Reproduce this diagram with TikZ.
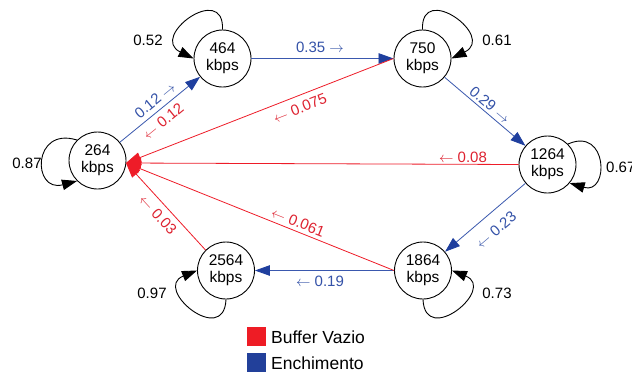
\documentclass[tikz,border=0pt]{standalone}
\usepackage{fontspec}
\setmainfont{Liberation Sans}
\usetikzlibrary{arrows.meta}
\definecolor{chainblue}{HTML}{3A58AE}
\definecolor{tipblue}{HTML}{1F3F9E}
\definecolor{chainred}{HTML}{EE1C28}
\definecolor{labred}{HTML}{DE2230}
\definecolor{labblue}{HTML}{3452A8}
\definecolor{keyred}{HTML}{EE1C25}
\definecolor{keyblue}{HTML}{22409A}
\newcommand{\fwd}{$\rightarrow$}
\newcommand{\bwd}{$\leftarrow$}
\begin{document}
\begin{tikzpicture}[x=1pt,y=-1pt,
  ratenode/.style={circle,draw=black,line width=0.9pt,minimum size=57pt,inner sep=0pt,
    align=center,font=\fontsize{15.5}{16.7}\selectfont},
  blueedge/.style={draw=chainblue,line width=0.8pt,-{Triangle[length=15pt,width=10.5pt,fill=tipblue,color=tipblue]}},
  rededge/.style={draw=chainred,line width=0.8pt,-{Triangle[length=15pt,width=10.5pt,fill=chainred,color=chainred]}},
  loopedge/.style={draw=black,line width=0.9pt,-{Triangle[length=15pt,width=10.5pt]}},
  problab/.style={font=\fontsize{15}{16}\selectfont,inner sep=0pt},
  redlab/.style={problab,text=labred},
  bluelab/.style={problab,text=labblue},
  keytext/.style={font=\fontsize{17.5}{19}\selectfont,anchor=west,inner sep=0pt}]
\useasboundingbox (0,0) rectangle (632,376);
\fill[white] (0,0) rectangle (632,376);

% bit-rate states
\node[ratenode] (n264)  at (97.5,160.5) {264\\kbps};
\node[ratenode] (n464)  at (222.5,58.5) {464\\kbps};
\node[ratenode] (n750)  at (422.5,58.5) {750\\kbps};
\node[ratenode] (n1264) at (547.5,164.5) {1264\\kbps};
\node[ratenode] (n1864) at (423,270.5) {1864\\kbps};
\node[ratenode] (n2564) at (226,270.5) {2564\\kbps};
\coordinate (rin) at (126,163);

% filling transitions (step up / step down along the chain)
\draw[blueedge] (n264) -- (n464);
\draw[blueedge] (n464) -- (n750);
\draw[blueedge] (n750) -- (n1264);
\draw[blueedge] (n1264) -- (n1864);
\draw[blueedge] (n1864.west) -- (n2564);

% empty-buffer transitions back to the lowest rate
\draw[rededge] (n750.west) -- (rin);
\draw[rededge] (n1264.west) -- (rin);
\draw[rededge] (n1864.west) -- (rin);
\draw[rededge] (n2564.135) -- (rin);

% self loops
\draw[loopedge] (n264.135) .. controls +(-45,-14) and +(-45,12) .. (n264.225);
\draw[loopedge] (n464.north) .. controls +(2,-48) and +(-45,-22) .. (n464.west);
\draw[loopedge] (n750.north) .. controls +(-2,-48) and +(45,-22) .. (n750.east);
\draw[loopedge] (n1264.45) .. controls +(40,-18) and +(40,12) .. (n1264.-40);
\draw[loopedge] (n1864.south) .. controls +(2,48) and +(45,18) .. (n1864.east);
\draw[loopedge] (n2564.south) .. controls +(-2,48) and +(-45,18) .. (n2564.west);

% self-loop probabilities
\node[problab] (p264)  at (27,163) {0.87};
\node[problab] (p464)  at (148,40) {0.52};
\node[problab] (p750)  at (497,40) {0.61};
\node[problab,anchor=west] (p1264) at (606,167) {0.67};
\node[problab] (p1864) at (497,293) {0.73};
\node[problab] (p2564) at (152,293) {0.97};

% transition probabilities
\node[bluelab,rotate=39.2] (q1) at (155,100) {0.12 \fwd};
\node[redlab,rotate=39.2] (q2) at (163,121) {\bwd\ 0.12};
\node[bluelab] (q3) at (320,47) {0.35 \fwd};
\node[redlab,rotate=21.3] (q4) at (300,108) {\bwd\ 0.075};
\node[bluelab,rotate=-40.2] (q5) at (490,105) {0.29 \fwd};
\node[redlab] (q6) at (463,157) {\bwd\ 0.08};
\node[bluelab,rotate=40.4] (q7) at (496,230) {\bwd\ 0.23};
\node[redlab,rotate=-21.8] (q8) at (298,222) {\bwd\ 0.061};
\node[bluelab] (q9) at (320,281) {\bwd\ 0.19};
\node[redlab,rotate=-47.4] (q10) at (158,215) {\bwd\ 0.03};

% legend
\fill[keyred] (247,327) rectangle (266,346);
\fill[keyblue] (247,353) rectangle (266,372);
\node[keytext] (k1) at (271,337) {Buffer Vazio};
\node[keytext] (k2) at (271,363) {Enchimento};
\end{tikzpicture}
\end{document}
